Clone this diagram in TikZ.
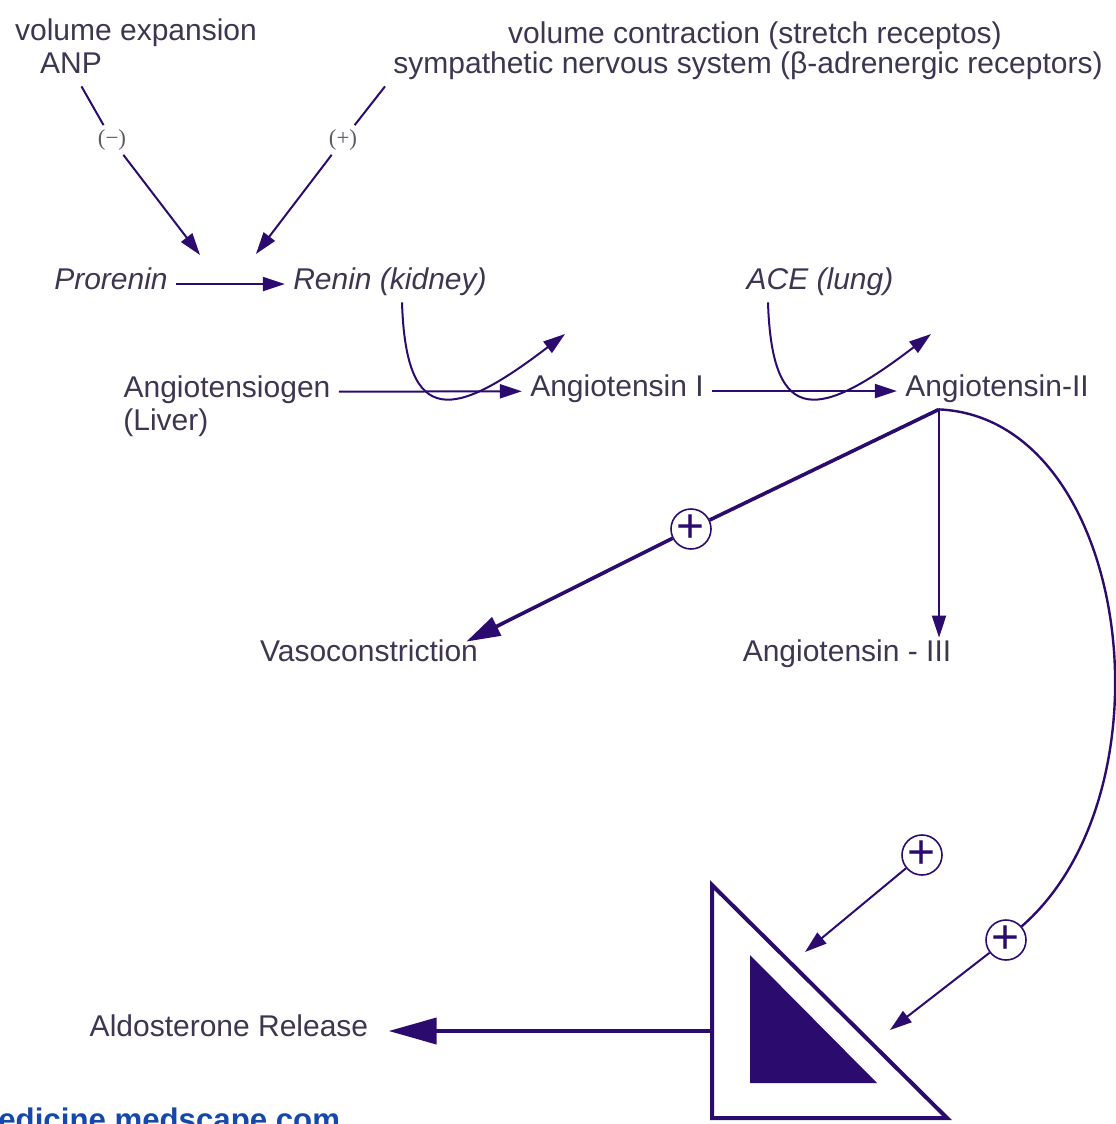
\documentclass[tikz,border=0pt]{standalone}
\usepackage{fontspec}
\setmainfont{Liberation Sans}
\newfontfamily\signfont{Liberation Serif}
\usetikzlibrary{arrows.meta, calc}
\definecolor{raasInk}{RGB}{43, 12, 110}
\definecolor{raasText}{RGB}{62, 54, 80}
\definecolor{raasSign}{RGB}{95, 88, 108}
\definecolor{raasLink}{RGB}{22, 72, 170}

\begin{document}
\begin{tikzpicture} [
        x=0.5pt, y=-0.5pt,
        lbl/.style={text=raasText, font=\fontsize{15}{18}\selectfont, inner sep=4pt, anchor=base, text height=0.75em, text depth=0.25em},
        il/.style={lbl, font=\fontsize{15}{18}\selectfont\itshape},
        sgn/.style={text=raasSign, font=\signfont\fontsize{11.5}{12}\selectfont, inner sep=2pt},
        pl/.style={circle, draw=raasInk, line width=0.8pt, minimum size=20pt, inner sep=0pt, text=raasInk, font=\fontsize{24}{24}\selectfont},
        ln/.style={draw=raasInk, line width=1pt},
        arr/.style={ln, -{Triangle[length=11pt, width=7pt]}},
        bigarr/.style={draw=raasInk, line width=1.8pt, -{Triangle[length=17pt, width=10pt]}}
    ]
        \useasboundingbox (0,0) rectangle (1115,1124);

        % regulators
        \node[lbl] (volExp) at (136,40) {volume expansion};
        \node[lbl] (anp) at (71,73) {ANP};
        \node[lbl] (volCon) at (755,43) {volume contraction (stretch receptos)};
        \node[lbl] (symp) at (748,73) {sympathetic nervous system (β-adrenergic receptors)};
        \node[sgn] (minus) at (112,140) {(−)};
        \node[sgn] (plusTop) at (343,140) {(+)};
        \coordinate (negTip) at (200,255);
        \coordinate (posTip) at (256,254);

        \draw[ln] (anp) -- (minus);
        \draw[arr] (minus) -- (negTip);
        \draw[ln] (symp.south west) -- (plusTop);
        \draw[arr] (plusTop) -- (posTip);

        % enzymes
        \node[il] (prorenin) at (111,289) {Prorenin};
        \node[il] (renin) at (390,289) {Renin (kidney)};
        \node[il] (ace) at (820,289) {ACE (lung)};
        \draw[arr] (prorenin) -- (renin);

        % cascade
        \node[lbl] (angen) at (227,397) {Angiotensiogen};
        \node[lbl, anchor=base west] (liver) at (115,430) {(Liver)};
        \node[lbl] (angI) at (617,396) {Angiotensin I};
        \node[lbl] (angII) at (997,396) {Angiotensin-II};
        \coordinate (reninTip) at (565,334);
        \coordinate (aceTip) at (931,334);

        \draw[arr] (angen) -- (angI);
        \draw[arr] (angI) -- (angII);
        \draw[arr] ([xshift=6pt]renin.south) .. controls (406,430) and (455,418) .. (reninTip);
        \draw[arr] ([xshift=-26pt]ace.south) .. controls (772,430) and (821,418) .. (aceTip);

        % effects of angiotensin II
        \coordinate (hub) at ([xshift=-29pt]angII.south);
        \node[lbl] (vaso) at (369,661) {Vasoconstriction};
        \node[lbl] (angIII) at (847,661) {Angiotensin - III};
        \node[pl] (plusV) at (691,529) {+};
        \node[pl] (plusU) at (922,855) {+};
        \node[pl] (plusD) at (1006,940) {+};

        \draw[draw=raasInk, line width=1.8pt] (hub) -- (plusV);
        \draw[bigarr] (plusV) -- ([xshift=-10pt, yshift=-2pt]vaso.north east);
        \draw[arr] (hub) -- (hub |- angIII.north);
        \draw[draw=raasInk, line width=1.2pt] (hub) .. controls (1130,418) and (1178,790) .. (plusD);

        % adrenal
        \coordinate (triTop) at (712,885);
        \coordinate (triLeft) at (712,1118);
        \coordinate (triRight) at (947,1118);
        \coordinate (triU) at (805,952);
        \coordinate (triD) at (890,1030);
        \draw[draw=raasInk, line width=2pt, fill=white] (triTop) -- (triLeft) -- (triRight) -- cycle;
        \fill[raasInk] (750,955) -- (750,1083) -- (877,1083) -- cycle;
        \draw[arr] (plusU) -- (triU);
        \draw[arr] (plusD) -- (triD);

        \node[lbl] (aldo) at (229,1036) {Aldosterone Release};
        \draw[draw=raasInk, line width=2pt, -{Triangle[length=24pt, width=13pt]}, shorten >=6pt] (triTop |- aldo) -- (aldo);

        \node[anchor=base west, text=raasLink, font=\fontsize{15.6}{18}\selectfont\bfseries, inner sep=0pt] (site) at (-2,1130) {edicine.medscape.com};
    \end{tikzpicture}
\end{document}
